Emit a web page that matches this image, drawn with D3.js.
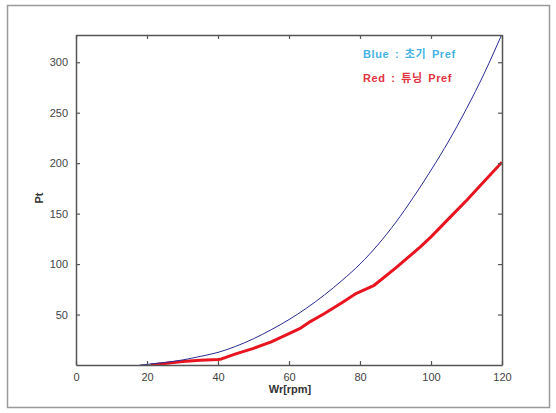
<!DOCTYPE html>
<html>
<head>
<meta charset="utf-8">
<script src="https://cdn.jsdelivr.net/npm/d3@7"></script>
<style>
  body { margin: 0; background: #fff; }
  text { font-family: "Liberation Sans", Arial, sans-serif; }
</style>
</head>
<body>
<div id="chart"></div>
<script>
// data
var xTicks = [0, 20, 40, 60, 80, 100, 120];
var yTicks = [50, 100, 150, 200, 250, 300];

var blueX = [18, 20, 25, 30, 35, 40, 45, 50, 55, 60, 65, 70, 75, 80, 85, 90, 95, 100, 105, 110, 115, 120];
var blueY = [0, 0.6, 2.5, 5, 8.5, 12.5, 18.5, 26, 35, 45, 56.5, 69.5, 84, 100, 119, 141, 166, 193, 222, 254, 289, 328];

var redX = [21, 25, 30, 35, 40, 41, 45, 50, 55, 60, 63, 66, 70, 75, 79, 84, 90, 97, 100, 105, 110, 115, 120];
var redY = [0, 1.5, 3.5, 4.8, 5.5, 6, 11, 16.5, 23, 31, 36, 43, 51, 62, 71, 79, 96, 117, 127, 145, 163, 182, 201];

var legendLabels = ["Blue : 초기 Pref", "Red : 튜닝 Pref"];
var legendColors = ["#45b3e4", "#e2343f"];

var W = 556, H = 413;
var margin = {top: 35, right: 54, bottom: 48, left: 76},
    width = W - margin.left - margin.right,
    height = H - margin.top - margin.bottom;

var svg = d3.select("#chart")
    .append("svg")
    .attr("width", W)
    .attr("height", H);

// outer frame
svg.append("rect")
    .attr("x", 7.5).attr("y", 5.5)
    .attr("width", 542).attr("height", 402)
    .attr("fill", "none")
    .attr("stroke", "#9a9a9a")
    .attr("stroke-width", 1.5);

var g = svg.append("g")
    .attr("transform", "translate(" + margin.left + "," + margin.top + ")");

var x = d3.scaleLinear().domain([0, 120]).range([0, width]);
var y = d3.scaleLinear().domain([0, 327]).range([height, 0]);

// curves, clipped to the box
g.append("defs").append("clipPath").attr("id", "clip")
    .append("rect").attr("width", width).attr("height", height);

var line = d3.line()
    .x(function (d) { return x(d[0]); })
    .y(function (d) { return y(d[1]); });

var plot = g.append("g").attr("clip-path", "url(#clip)");

plot.append("path")
    .datum(d3.zip(redX, redY))
    .attr("fill", "none")
    .attr("stroke", "#e8141f")
    .attr("stroke-width", 3)
    .attr("stroke-linejoin", "round")
    .attr("d", line.curve(d3.curveLinear));

plot.append("path")
    .datum(d3.zip(blueX, blueY))
    .attr("fill", "none")
    .attr("stroke", "#2a2a92")
    .attr("stroke-width", 1)
    .attr("d", line.curve(d3.curveMonotoneX));

// axes (matlab style box, ticks inside)
var axisColor = "#555";
var tk = 4;
var xb = g.append("g")
    .attr("transform", "translate(0," + height + ")")
    .call(d3.axisBottom(x).tickValues(xTicks).tickSizeInner(-tk).tickSizeOuter(0).tickPadding(8));
var xt = g.append("g")
    .call(d3.axisTop(x).tickValues(xTicks).tickSizeInner(-tk).tickSizeOuter(0).tickFormat(""));
var yl = g.append("g")
    .call(d3.axisLeft(y).tickValues(yTicks).tickSizeInner(-tk).tickSizeOuter(0).tickPadding(8));
var yr = g.append("g")
    .attr("transform", "translate(" + width + ",0)")
    .call(d3.axisRight(y).tickValues(yTicks).tickSizeInner(-tk).tickSizeOuter(0).tickFormat(""));

[xb, xt, yl, yr].forEach(function (a) {
    a.select(".domain").attr("stroke", axisColor).attr("stroke-width", 1.5);
    a.selectAll(".tick line").attr("stroke", axisColor).attr("stroke-width", 1.2);
    a.selectAll(".tick text")
        .attr("fill", "#444")
        .style("font-size", "11px")
        .style("font-family", "'Liberation Sans', Arial, sans-serif");
});

// axis titles
g.append("text")
    .attr("x", x(60) + 1)
    .attr("y", height + 28)
    .attr("text-anchor", "middle")
    .attr("fill", "#333")
    .style("font-size", "11px")
    .style("font-weight", "bold")
    .text("Wr[rpm]");

g.append("text")
    .attr("transform", "translate(" + (-33) + "," + (height / 2 - 2) + ") rotate(-90)")
    .attr("text-anchor", "middle")
    .attr("fill", "#333")
    .style("font-size", "11px")
    .style("font-weight", "bold")
    .text("Pt");

// legend text
g.selectAll("legendlabels")
    .data(legendLabels)
    .enter()
    .append("text")
    .attr("x", 287)
    .attr("y", function (d, i) { return 23 + i * 24; })
    .attr("fill", function (d, i) { return legendColors[i]; })
    .style("font-size", "11px")
    .style("font-weight", "bold")
    .style("letter-spacing", "0.6px")
    .style("word-spacing", "2px")
    .style("font-family", "'Liberation Sans', 'Noto Sans CJK KR', sans-serif")
    .text(function (d) { return d; });
</script>
</body>
</html>
